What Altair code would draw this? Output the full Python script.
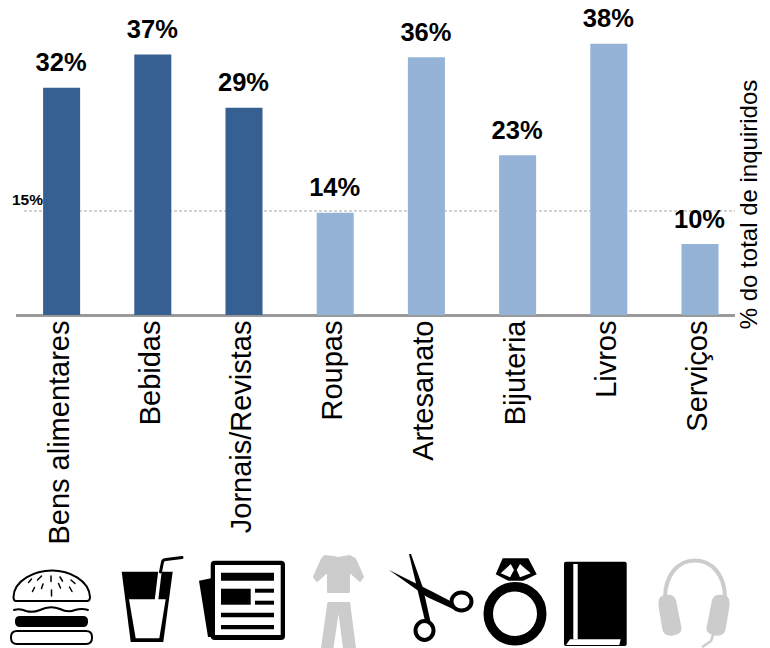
import re
import altair as alt
import pandas as pd

categories = ["Bens alimentares", "Bebidas", "Jornais/Revistas", "Roupas",
              "Artesanato", "Bijuteria", "Livros", "Serviços"]
values = [32.0, 36.7, 29.2, 14.4, 36.3, 22.5, 38.2, 10.0]
labels = ["32%", "37%", "29%", "14%", "36%", "23%", "38%", "10%"]
groups = ["a", "a", "a", "b", "b", "b", "b", "b"]
reference = [14.65]
reference_label = ["15%"]
axis_title = "% do total de inquiridos"

DARK, LIGHT, GREY = "#376092", "#95B3D7", "#CCCCCC"
FONT = "Liberation Sans"
PX_PER_UNIT = 7.1
PLOT_H = 307
STEP = 729.6 / 8


def ellipse(cx, cy, rx, ry):
    k = 0.5523
    return (f"M{cx-rx},{cy} C{cx-rx},{cy-k*ry} {cx-k*rx},{cy-ry} {cx},{cy-ry} "
            f"C{cx+k*rx},{cy-ry} {cx+rx},{cy-k*ry} {cx+rx},{cy} "
            f"C{cx+rx},{cy+k*ry} {cx+k*rx},{cy+ry} {cx},{cy+ry} "
            f"C{cx-k*rx},{cy+ry} {cx-rx},{cy+k*ry} {cx-rx},{cy} Z")


def box(x0, y0, x1, y1):
    return f"M{x0},{y0} L{x1},{y0} L{x1},{y1} L{x0},{y1} Z"


def round_box(x0, y0, x1, y1, r):
    return (f"M{x0+r},{y0} L{x1-r},{y0} Q{x1},{y0} {x1},{y0+r} L{x1},{y1-r} Q{x1},{y1} {x1-r},{y1} "
            f"L{x0+r},{y1} Q{x0},{y1} {x0},{y1-r} L{x0},{y0+r} Q{x0},{y0} {x0+r},{y0} Z")


# Icon glyphs: (category index, path, fill, stroke, stroke width)
K, W = "#000000", "#FFFFFF"
icons = [
    # burger
    (0, "M16,601 Q13.5,601 13.5,597 C14,580 35,570.5 52,570.5 C69,570.5 89,580 90,597 Q90,601 87,601 Z", W, K, 2),
    (0, "M28.5,582.5 L31.5,579 M37.5,580 L41.5,576 M51,576 L51,581.5 M60,577 L62.5,581 M71,580 L75,583.5 "
        "M32.5,591.5 L34.5,587.5 M41.5,588.5 L43,584 M51.5,590 L51.5,596 M58.5,583.5 L60.5,588 M69.5,587 L72,591.5", None, K, 1.5),
    (0, "M14,610 Q20,608 26,611 Q33,613 40,610 Q50,605 60,609 Q68,613 75,610 Q82,608 88,610", None, K, 2),
    (0, round_box(15, 616, 88, 627, 5), K, None, 0),
    (0, round_box(11, 631, 92, 644, 6), W, K, 2),
    # cup
    (1, "M121.7,571.7 L172.7,571.7 L163.3,642 L130.7,642 Z", K, None, 0),
    (1, "M129,599.3 L165.7,599.3 L159.3,638.3 L135.7,638.3 Z", W, None, 0),
    (1, "M160,571 L156.5,600", None, W, 3.5),
    (1, "M160.5,572 L162.5,562 Q163,559.5 166,559.5 L182,557.5", None, K, 3),
    # newspaper
    (2, "M199,580.7 L211,578.3 L214,637 L208,637 Z", K, None, 0),
    (2, round_box(210.7, 560.7, 285, 640, 4), K, None, 0),
    (2, box(215, 565, 280.7, 635), W, None, 0),
    (2, box(221, 572.7, 274, 580.7), K, None, 0),
    (2, box(221, 588.7, 250.7, 604.7), K, None, 0),
    (2, box(255, 588.7, 274, 592.7), K, None, 0),
    (2, box(255, 600.7, 274, 604.7), K, None, 0),
    (2, box(221, 612.7, 274, 617.3), K, None, 0),
    (2, box(221, 625, 274, 629.3), K, None, 0),
    # clothes
    (3, "M325,556 L333,557 L338.5,558 L344,557 L350,556 L355,559 L363,577 L360,581 L349,571 L349,592 "
        "L328,592 L328,571 L317,581 L314,577 L322,559 Z", GREY, GREY, 2),
    (3, "M327.5,602 L350,602 L356,648 L343,648 L338.5,614 L333.5,648 L321,648 Z", GREY, None, 0),
    # scissors
    (4, "M389,570 L391,571 L433,592 L456,604 L453,609 L427,597 Z", K, None, 0),
    (4, "M409,554 L411,554 L423,588 L431,624 L426,625 L419,596 Z", K, None, 0),
    (4, ellipse(461.5, 601.5, 10, 9), W, K, 4),
    (4, ellipse(424.5, 630.5, 9, 9.5), W, K, 4),
    # ring
    (5, ellipse(515, 613.8, 26.75, 27), W, K, 9.5),
    (5, "M502.7,558.3 L528.3,558.3 L536.7,574.3 L523.3,580.7 L508.3,580.7 L495.7,574.3 Z", K, None, 0),
    (5, "M500.7,573.3 L510.7,564 L514,570 L510,577.3 Z", W, None, 0),
    (5, "M530.7,573.3 L520,564 L516.7,570 L520,577.3 Z", W, None, 0),
    # book
    (6, round_box(564, 561.7, 626.7, 646, 2), K, None, 0),
    (6, box(573.3, 564, 577.7, 639.3), W, None, 0),
    (6, "M570,639.3 L620.7,639.3 L619.3,645 L566,645 Z", W, None, 0),
    # headphones
    (7, "M665,598 C665,575 678,560.5 695,560.5 C712,560.5 725,575 725,598", None, GREY, 4),
    (7, "M662,596 Q673,592 676,600 L681.5,628 Q682,634 673,635.5 Q664,636.5 662.5,630 L658.5,606 Q658,597 662,596 Z", GREY, None, 0),
    (7, "M726,596 Q715,592 712,600 L706.5,628 Q706,634 715,635.5 Q724,636.5 725.5,630 L729.5,606 Q730,597 726,596 Z", GREY, None, 0),
    (7, "M713,635 L711,641 L703,646.5", None, GREY, 2.5),
]
ICON_Y = 600


def rel(d, cx, cy):
    count = {"i": 0}

    def repl(match):
        offset = cx if count["i"] % 2 == 0 else cy
        count["i"] += 1
        return f"{float(match.group(0)) - offset:.2f}"

    return re.sub(r"-?\d+(?:\.\d+)?", repl, d)


df = pd.DataFrame({"cat": categories, "value": values, "label": labels, "group": groups})

x_scale = alt.Scale(domain=categories, paddingInner=0.594, paddingOuter=0.297)
y_scale = alt.Scale(domain=[0, PLOT_H / PX_PER_UNIT], nice=False, zero=True)

x_axis = alt.Axis(title=None, domain=False, ticks=False, labelAngle=270, labelAlign="right",
                  labelBaseline="middle", labelFont=FONT, labelFontSize=29, labelColor="#000000",
                  labelPadding=5, labelLimit=500, labelOverlap=False, labelOffset=-2)
y_axis = alt.Axis(title=axis_title, orient="right", domain=False, ticks=False, labels=False, grid=False,
                  titleFont=FONT, titleFontSize=24, titleFontWeight="normal", titleColor="#000000",
                  titleX=10.5, titleY=196, titleAngle=270, titleAlign="center", titleBaseline="alphabetic")

x_enc = alt.X("cat:N", scale=x_scale, axis=x_axis)
y_enc = alt.Y("value:Q", scale=y_scale, axis=y_axis)

bars = alt.Chart(df).mark_bar().encode(
    x=x_enc,
    y=y_enc,
    color=alt.Color("group:N", scale=alt.Scale(domain=["a", "b"], range=[DARK, LIGHT]), legend=None),
)
text = alt.Chart(df).mark_text(font=FONT, fontSize=25.5, fontWeight="bold", color="#000000",
                               baseline="alphabetic", dy=-16.5, dx=-0.5).encode(
    x=x_enc, y=y_enc, text="label:N")

baseline = alt.Chart(df).mark_rule(color="#999999", strokeWidth=2).encode(
    x=alt.value(0), x2=alt.value(719), y=alt.value(PLOT_H + 0.5))
ref_rule = alt.Chart(pd.DataFrame({"value": reference})).mark_rule(
    color="#A6A6A6", strokeWidth=1, strokeDash=[3, 2]).encode(
    x=alt.value(8), x2=alt.value(719), y=y_enc)
ref_text = alt.Chart(pd.DataFrame({"value": reference, "t": reference_label})).mark_text(
    font=FONT, fontSize=15.5, fontWeight="bold", color="#000000", align="left", baseline="alphabetic", dy=-6).encode(
    x=alt.value(-4), y=y_enc, text="t:N")

layers = [ref_rule, baseline, bars, text, ref_text]
for idx, d, fill, stroke, sw in icons:
    cx = 16 + STEP * (idx + 0.5)
    kw = {"shape": rel(d, cx, ICON_Y), "size": 4, "opacity": 1, "strokeCap": "round", "strokeJoin": "round"}
    if fill:
        kw.update(filled=True, fill=fill)
    else:
        kw.update(filled=False)
    kw.update(strokeWidth=sw)
    if stroke:
        kw.update(stroke=stroke)
    else:
        kw.update(strokeOpacity=0)
    layers.append(alt.Chart(pd.DataFrame({"cat": [categories[idx]]})).mark_point(**kw).encode(
        x=x_enc, y=alt.value(ICON_Y - 8)))

chart = alt.layer(*layers).properties(
    width=729.6, height=PLOT_H,
    padding={"left": 8, "top": 0, "right": 16.4, "bottom": 333},
    autosize=alt.AutoSizeParams(type="none"),
).configure_view(stroke=None)

chart.save("out.html", embed_options={"renderer": "svg", "actions": False})
